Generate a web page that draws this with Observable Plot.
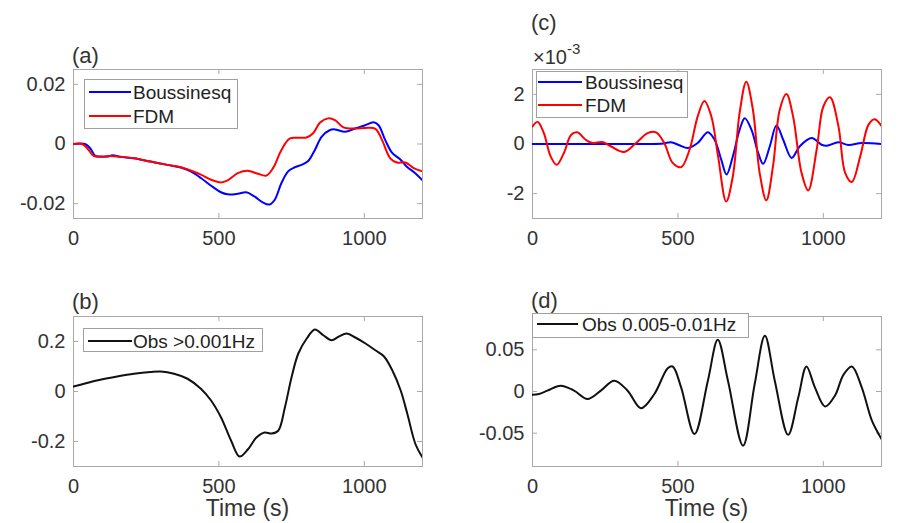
<!DOCTYPE html>
<html>
<head>
<meta charset="utf-8">
<script src="https://cdn.jsdelivr.net/npm/d3@7"></script>
<script src="https://cdn.jsdelivr.net/npm/@observablehq/plot@0.6"></script>
<style>
  html, body { margin: 0; padding: 0; background: #fff; }
  #fig { position: relative; width: 898px; height: 523px; background: #fff; overflow: hidden;
         font-family: "Liberation Sans", Arial, Helvetica, sans-serif; color: #333; }
  #fig .abs { position: absolute; white-space: nowrap; line-height: 1; }
  #fig svg { overflow: visible; }
</style>
</head>
<body>
<div id="fig"></div>
<script>
// Time axis shared by all four panels (s)
const timeDomain = [0, 1200];
const timeTicks = [0, 500, 1000];
const timeTickLabels = ["0", "500", "1000"];

// (a) modelled long-period signal: [time (s), value]
const boussA = [[0,0],[40,0],[58,-0.0015],[75,-0.004],[92,-0.0042],[115,-0.0042],[135,-0.0038],[160,-0.0043],[207,-0.0048],[265,-0.0059],[323,-0.007],[369,-0.0079],[403,-0.0092],[438,-0.0114],[473,-0.014],[507,-0.0162],[530,-0.0169],[565,-0.0167],[594,-0.0162],[622,-0.0176],[651,-0.0196],[674,-0.0203],[692,-0.0187],[715,-0.0131],[738,-0.0092],[761,-0.0078],[784,-0.007],[807,-0.0057],[830,-0.002],[853,0.0024],[882,0.0047],[899,0.0049],[934,0.0041],[968,0.0052],[1003,0.0063],[1032,0.0073],[1049,0.0063],[1072,0.0013],[1095,-0.0029],[1123,-0.0051],[1146,-0.0076],[1175,-0.0098],[1200,-0.0122]];
const fdmA = [[0,0],[29,0],[48,-0.0015],[69,-0.004],[90,-0.0043],[127,-0.004],[160,-0.0043],[207,-0.0048],[265,-0.0059],[323,-0.007],[369,-0.0078],[403,-0.0089],[438,-0.0103],[473,-0.012],[507,-0.0129],[530,-0.0122],[565,-0.0098],[599,-0.009],[634,-0.01],[663,-0.0106],[686,-0.0081],[715,-0.002],[743,0.0018],[772,0.0021],[801,0.0022],[824,0.0036],[847,0.0071],[876,0.0086],[899,0.008],[928,0.0056],[968,0.0052],[1003,0.0054],[1038,0.0051],[1061,0.0013],[1089,-0.0048],[1112,-0.0062],[1141,-0.0062],[1170,-0.0081],[1200,-0.0092]];

// (c) modelled 0.005-0.01 Hz band, in units of 1e-3
const boussC = [[0,0],[200,0],[400,0],[450,0.02],[476,0.07],[505,-0.05],[534,-0.16],[568,0.04],[603,0.47],[626,0.17],[649,-0.63],[667,-1.23],[689,-0.49],[712,0.57],[730,1.04],[753,0.57],[776,-0.36],[793,-0.8],[816,-0.09],[839,0.75],[862,0.17],[891,-0.56],[919,-0.09],[960,0.24],[994,-0.03],[1012,-0.07],[1052,0.07],[1086,-0.04],[1132,0.04],[1200,0]];
const fdmC = [[0,0.71],[18,0.89],[39,0.44],[62,-0.49],[83,-0.84],[108,-0.36],[133,0.37],[154,0.47],[183,0.17],[206,0.04],[240,0.08],[269,-0.09],[315,-0.32],[356,0.04],[396,0.44],[425,0.47],[453,0.04],[482,-0.76],[511,-0.93],[540,-0.23],[568,1.11],[591,1.73],[615,1.11],[638,-0.49],[666,-2.32],[689,-1.29],[712,1.24],[735,2.51],[758,1.37],[781,-1.16],[804,-2.27],[827,-0.89],[850,1.37],[873,2.01],[896,1.11],[925,-1.16],[948,-1.87],[977,-0.23],[1000,1.51],[1023,1.88],[1052,0.71],[1075,-1.16],[1098,-1.53],[1127,-0.49],[1155,0.77],[1176,1.0],[1200,0.73]];

// (b) observation, high-passed above 0.001 Hz
const obsB = [[0,0.02],[46,0.034],[92,0.047],[150,0.06],[208,0.071],[265,0.078],[300,0.08],[346,0.071],[392,0.051],[438,0.011],[473,-0.036],[507,-0.103],[542,-0.197],[571,-0.26],[600,-0.231],[629,-0.184],[657,-0.164],[681,-0.168],[704,-0.157],[727,-0.063],[750,0.058],[773,0.152],[802,0.212],[830,0.248],[859,0.225],[888,0.205],[911,0.219],[940,0.232],[969,0.216],[1004,0.192],[1038,0.165],[1067,0.141],[1096,0.085],[1125,0.004],[1148,-0.09],[1176,-0.211],[1200,-0.264]];

// (d) observation, band-passed 0.005-0.01 Hz
const obsD = [[0,-0.004],[22,-0.003],[51,0.001],[97,0.007],[143,0.001],[189,-0.009],[235,0.001],[281,0.013],[327,0.001],[373,-0.02],[419,-0.003],[465,0.028],[482,0.03],[511,0.005],[557,-0.051],[603,0.013],[637,0.062],[672,0.013],[724,-0.065],[764,0.009],[799,0.067],[833,0.013],[879,-0.052],[914,-0.007],[942,0.03],[971,0.005],[1006,-0.018],[1040,-0.005],[1069,0.02],[1098,0.03],[1132,0.005],[1167,-0.035],[1200,-0.057]];

// y ticks and their printed labels per panel
const yTicksA = [-0.02, 0, 0.02], yLabelsA = ["-0.02", "0", "0.02"];
const yTicksC = [-2, 0, 2], yLabelsC = ["-2", "0", "2"];
const yTicksB = [-0.2, 0, 0.2], yLabelsB = ["-0.2", "0", "0.2"];
const yTicksD = [-0.05, 0, 0.05], yLabelsD = ["-0.05", "0", "0.05"];

const BLUE = "#0000ff", RED = "#ff0000", BLACK = "#111111";
const FRAME = "#a9a9a9", LEGEND_BORDER = "#a0a0a0";
const FONT = '"Liberation Sans", Arial, Helvetica, sans-serif';

const fig = document.getElementById("fig");

function panel({box, frame, yDomain, yTicks, yLabels, series}) {
  const [bx, by, bw, bh] = box;
  const [fl, ft, fr, fb] = frame;
  const fw = fr - fl, fh = fb - ft, tick = 5;
  const chart = Plot.plot({
    width: bw, height: bh,
    marginLeft: fl - bx, marginRight: bx + bw - fr,
    marginTop: ft - by, marginBottom: by + bh - fb,
    x: {domain: timeDomain},
    y: {domain: yDomain},
    style: {fontFamily: FONT, fontSize: "20px", color: "#333", background: "transparent", overflow: "visible"},
    marks: [
      Plot.frame({stroke: FRAME}),
      Plot.tickY(yTicks, {y: d => d, insetRight: fw - tick, stroke: FRAME}),
      Plot.tickY(yTicks, {y: d => d, insetLeft: fw - tick, stroke: FRAME}),
      Plot.tickX(timeTicks, {x: d => d, insetTop: fh - tick, stroke: FRAME}),
      Plot.tickX(timeTicks, {x: d => d, insetBottom: fh - tick, stroke: FRAME}),
      Plot.axisX(timeTicks, {tickSize: 0, tickPadding: 12, label: null,
        tickFormat: d => timeTickLabels[timeTicks.indexOf(d)]}),
      Plot.axisY(yTicks, {tickSize: 0, tickPadding: 8, label: null,
        tickFormat: d => yLabels[yTicks.indexOf(d)]}),
      ...series.map(s => Plot.line(s.data, {
        x: d => d[0], y: d => d[1], stroke: s.color, strokeWidth: 2,
        curve: "catmull-rom", clip: true
      }))
    ]
  });
  chart.style.position = "absolute";
  chart.style.left = bx + "px";
  chart.style.top = by + "px";
  fig.appendChild(chart);
}

function text(str, {left, top, size, center = false, width = 0}) {
  const el = document.createElement("div");
  el.className = "abs";
  el.style.fontSize = size + "px";
  el.style.left = left + "px";
  el.style.top = top + "px";
  if (center) { el.style.width = width + "px"; el.style.textAlign = "center"; }
  el.innerHTML = str;
  fig.appendChild(el);
  return el;
}

function legend({left, top, width, height, rows, lineX1, lineX2, textX, size = 19}) {
  const box = document.createElement("div");
  box.className = "abs";
  Object.assign(box.style, {
    left: left + "px", top: top + "px", width: (width - 2) + "px", height: (height - 2) + "px",
    border: "1px solid " + LEGEND_BORDER, background: "#fff"
  });
  fig.appendChild(box);
  for (const r of rows) {
    const ln = document.createElement("div");
    ln.className = "abs";
    Object.assign(ln.style, {
      left: lineX1 + "px", top: (r.y - 1) + "px", width: (lineX2 - lineX1) + "px",
      height: "2px", background: r.color
    });
    fig.appendChild(ln);
    text(r.label, {left: textX, top: Math.round(r.y - 0.5 * size), size}).style.color = "#222";
  }
}

// Panels: SVG box [x, y, w, h] and frame [left, top, right, bottom]
panel({box: [0, 0, 449, 258], frame: [73, 69, 422, 218], yDomain: [-0.025, 0.025],
  yTicks: yTicksA, yLabels: yLabelsA,
  series: [{data: boussA, color: BLUE}, {data: fdmA, color: RED}]});
panel({box: [449, 0, 449, 258], frame: [532, 69, 881, 218], yDomain: [-3, 3],
  yTicks: yTicksC, yLabels: yLabelsC,
  series: [{data: boussC, color: BLUE}, {data: fdmC, color: RED}]});
panel({box: [0, 258, 449, 265], frame: [73, 316, 422, 466], yDomain: [-0.3, 0.3],
  yTicks: yTicksB, yLabels: yLabelsB,
  series: [{data: obsB, color: BLACK}]});
panel({box: [449, 258, 449, 265], frame: [532, 316, 881, 466], yDomain: [-0.09, 0.09],
  yTicks: yTicksD, yLabels: yLabelsD,
  series: [{data: obsD, color: BLACK}]});

// Panel letters
text("(a)", {left: 72, top: 45, size: 22});
text("(c)", {left: 531, top: 12, size: 22});
text("(b)", {left: 72, top: 291, size: 22});
text("(d)", {left: 531, top: 290, size: 22});

// Exponent multiplier for panel (c)
text('×10<span style="font-size:15px;position:relative;top:-10px">-3</span>', {left: 533, top: 47, size: 20});

// Axis titles
text("Time (s)", {left: 73, top: 497, size: 23, center: true, width: 349});
text("Time (s)", {left: 532, top: 497, size: 23, center: true, width: 349});

// Legends
legend({left: 84, top: 79, width: 154, height: 50, lineX1: 89, lineX2: 131, textX: 133,
  rows: [{label: "Boussinesq", color: BLUE, y: 92}, {label: "FDM", color: RED, y: 116}]});
legend({left: 536, top: 71, width: 152, height: 47, lineX1: 538, lineX2: 582, textX: 585,
  rows: [{label: "Boussinesq", color: BLUE, y: 82}, {label: "FDM", color: RED, y: 105}]});
legend({left: 83, top: 328, width: 180, height: 24, lineX1: 88, lineX2: 132, textX: 133,
  rows: [{label: "Obs &gt;0.001Hz", color: BLACK, y: 341}]});
legend({left: 532, top: 313, width: 217, height: 25, lineX1: 537, lineX2: 578, textX: 582,
  rows: [{label: "Obs 0.005-0.01Hz", color: BLACK, y: 324}]});
</script>
</body>
</html>
